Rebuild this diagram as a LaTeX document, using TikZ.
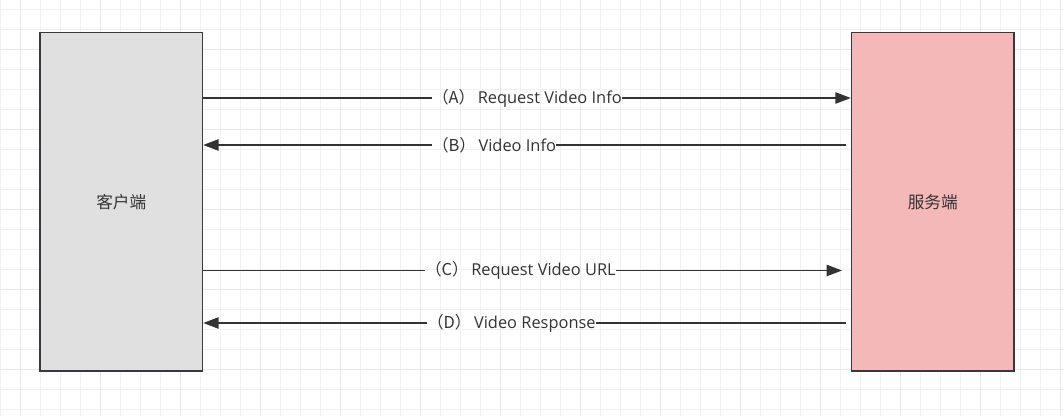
\documentclass[tikz,border=0pt]{standalone}
\usepackage{fontspec}
\setmainfont{Open Sans}
\newfontfamily\cjk{Noto Sans CJK SC}
\usepackage{xcolor}
\usetikzlibrary{arrows.meta}
\definecolor{gridline}{HTML}{F1F1F1}
\definecolor{gridmajor}{HTML}{E8E8E8}
\definecolor{edgegray}{HTML}{36393D}
\definecolor{msggray}{HTML}{333333}
\definecolor{clientfill}{HTML}{E0E0E0}
\definecolor{serverfill}{HTML}{F4B8B8}

\begin{document}
\begin{tikzpicture}[x=0.75pt,y=-0.75pt,
  box/.style={draw=edgegray,line width=1.1pt,minimum width=121.9pt,minimum height=253.9pt,inner sep=0pt,text=msggray,font=\cjk\fontsize{12.5}{15}\selectfont},
  msg/.style={draw=msggray,line width=1pt},
  tip/.style={msg,-{Triangle[length=11.5pt,width=8.5pt]}},
  lbl/.style={anchor=west,inner sep=0pt,text=msggray,font=\fontsize{12.3}{15}\selectfont}]
\useasboundingbox (0,0) rectangle (1064,416);
\fill[white] (0,0) rectangle (1064,416);
% background grid
\foreach \i in {0,...,53} {\draw[gridline,line width=0.75pt] (20*\i+0.7,0)--(20*\i+0.7,416);}
\foreach \j in {0,...,20} {\draw[gridline,line width=0.75pt] (0,20*\j+10)--(1064,20*\j+10);}
\foreach \i in {1,5,...,53} {\draw[gridmajor,line width=0.75pt] (20*\i+0.7,0)--(20*\i+0.7,416);}
\foreach \j in {2,6,...,20} {\draw[gridmajor,line width=0.75pt] (0,20*\j+10)--(1064,20*\j+10);}

\node[box,fill=clientfill] (client) at (121.25,201.75) {客户端};
\node[box,fill=serverfill] (server) at (932.75,201.75) {服务端};

\node[lbl] (reqinfo) at (432,98) {{\cjk（A）}\,Request Video Info};
\node[lbl] (info) at (432,145) {{\cjk（B）}\,Video Info};
\node[lbl] (requrl) at (425,270.5) {{\cjk（C）}\,Request Video URL};
\node[lbl] (resp) at (427,323) {{\cjk（D）}\,Video Response};
\coordinate (bstart) at (846,145);
\coordinate (cend) at (842,270.5);
\coordinate (dstart) at (846,323);

\draw[msg] (client.east|-reqinfo) -- (reqinfo.west);
\draw[tip] (reqinfo.east) -- (server.west|-reqinfo);
\draw[msg] (bstart) -- (info.east);
\draw[tip] (info.west) -- (client.east|-info);
\draw[msg] (client.east|-requrl) -- (requrl.west);
\draw[tip] (requrl.east) -- (cend);
\draw[msg] (dstart) -- (resp.east);
\draw[tip] (resp.west) -- (client.east|-resp);
\end{tikzpicture}
\end{document}
